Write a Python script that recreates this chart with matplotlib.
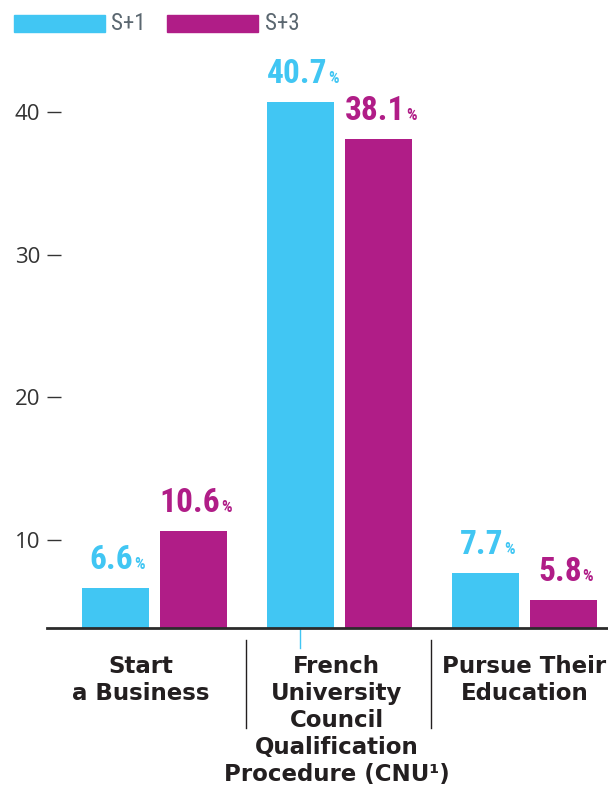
import numpy as np
import matplotlib.pyplot as plt
from matplotlib import font_manager
from matplotlib.patches import Rectangle
from matplotlib.transforms import blended_transform_factory

# data
categories = ['Start\na Business',
              'French\nUniversity\nCouncil\nQualification\nProcedure (CNU¹)',
              'Pursue Their\nEducation']
series = ['S+1', 'S+3']
s1 = [6.6, 40.7, 7.7]
s3 = [10.6, 38.1, 5.8]
yticks = [10, 20, 30, 40]

CYAN = '#41c6f3'
MAGENTA = '#b01d87'
DARK = '#231f20'

# look for a condensed face for the numbers and the legend
def find_condensed(weight):
    cands = []
    for f in font_manager.fontManager.ttflist:
        name = f.name.lower()
        fn = f.fname.lower()
        narrow = ('condensed' in name or 'narrow' in name or 'condensed' in fn
                  or 'narrow' in fn or f.stretch in ('condensed', 'semi-condensed'))
        if not narrow:
            continue
        w = f.weight if isinstance(f.weight, int) else 400
        bold = w >= 600 or 'bold' in fn
        if bold != (weight == 'bold'):
            continue
        if 'oblique' in fn or 'italic' in fn or 'mono' in fn or 'serif' in name:
            continue
        rank = 0 if 'roboto' in name else 1 if 'liberation' in name else 2
        cands.append((rank, f.fname))
    if cands:
        return font_manager.FontProperties(fname=sorted(cands)[0][1])
    return font_manager.FontProperties(family='DejaVu Sans', weight=weight)

num_fp = find_condensed('bold')
leg_fp = find_condensed('normal')

W, H = 608, 787
fig = plt.figure(figsize=(W / 100, H / 100), dpi=100)
ax = fig.add_axes([47 / W, (H - 628) / H, (W - 47) / W, (628 - 60) / H])

x = np.arange(len(categories))
bw = 0.362
off = 0.211
ax.bar(x - off, s1, bw, color=CYAN, zorder=2)
ax.bar(x + off, s3, bw, color=MAGENTA, zorder=2)

ax.set_xlim(-0.581, 2.451)
ax.set_ylim(3.83, 43.64)

for sp in ['top', 'right', 'left']:
    ax.spines[sp].set_visible(False)
ax.spines['bottom'].set_color('#2b2b2b')
ax.spines['bottom'].set_linewidth(2)
ax.spines['bottom'].set_zorder(3)

ax.set_xticks([])
ax.set_yticks(yticks)
ax.tick_params(axis='y', direction='in', length=10, width=1, color='#333333',
               pad=5, labelsize=16, labelcolor='#333333')
for lab in ax.get_yticklabels():
    lab.set_family(['Open Sans', 'DejaVu Sans'])

# value labels: number + small %, centred together over the bar
renderer = fig.canvas.get_renderer()

def value_label(xpos, val, color):
    num = ax.annotate(f'{val:.1f}', (xpos, val), xytext=(0, 19), textcoords='offset pixels',
                      ha='left', va='baseline', fontproperties=num_fp, fontsize=24,
                      color=color)
    pct = ax.annotate('%', (xpos, val), xytext=(0, 19), textcoords='offset pixels',
                      ha='left', va='baseline', fontproperties=num_fp, fontsize=12,
                      color=color)
    wn = num.get_window_extent(renderer).width
    wp = pct.get_window_extent(renderer).width
    start = -(wn + 1 + wp) / 2 + 2
    num.xyann = (start, 19)
    pct.xyann = (start + wn + 1, 19)

for i in range(len(categories)):
    value_label(x[i] - off, s1[i], CYAN)
    value_label(x[i] + off, s3[i], MAGENTA)

# category labels and separators
tr = blended_transform_factory(ax.transData, fig.transFigure)
label_x = [-0.073, 0.984, 2.0]
for lx, cat in zip(label_x, categories):
    ax.text(lx, (H - 655) / H, cat, transform=tr, ha='center', va='top',
            fontsize=16.5, fontweight='bold', color=DARK, linespacing=1.22)
for sx in [0.495, 1.495]:
    ax.plot([sx, sx], [(H - 640) / H, (H - 728) / H], transform=tr,
            color=DARK, lw=1, clip_on=False)
# small cyan tick under the middle group
ax.plot([x[1] - off] * 2, [(H - 628) / H, (H - 648) / H], transform=tr,
        color=CYAN, lw=1, clip_on=False)

# legend
for (x0, x1, tx), name, col in zip([(14, 105, 111), (167, 258, 265)], series, [CYAN, MAGENTA]):
    fig.patches.append(Rectangle((x0 / W, (H - 32) / H), (x1 - x0) / W, 17 / H,
                                 transform=fig.transFigure, color=col))
    fig.text(tx / W, (H - 23.5) / H, name, ha='left', va='center',
             fontproperties=leg_fp, fontsize=16.5, color='#5b6770')

fig.savefig('out.png', dpi=100)
